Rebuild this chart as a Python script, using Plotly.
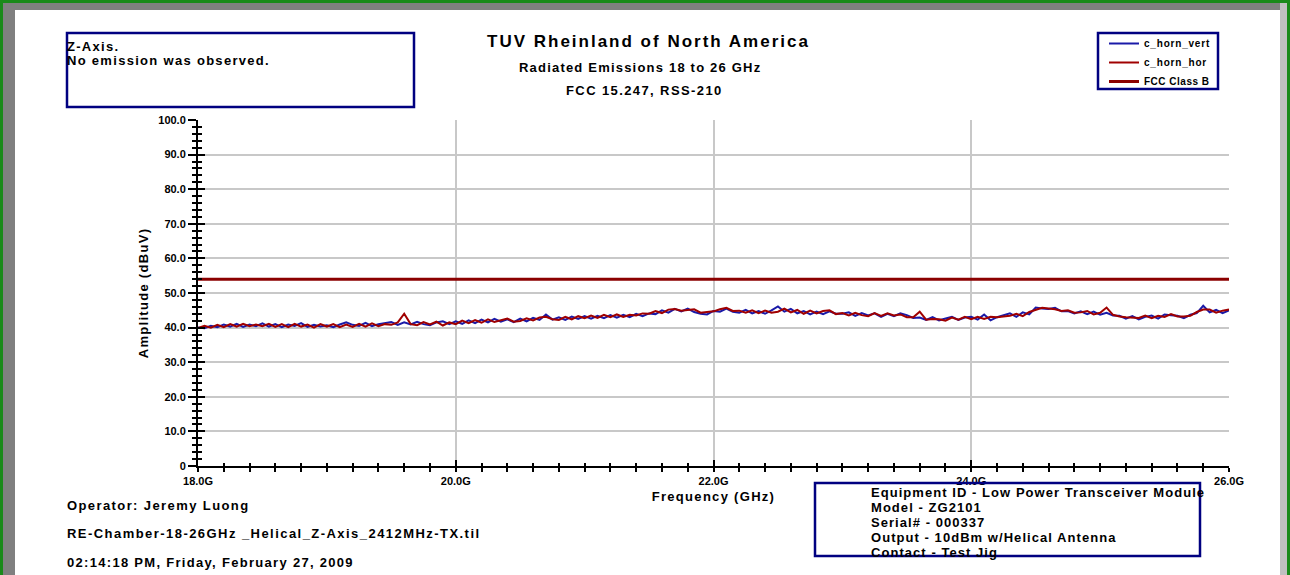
import plotly.graph_objects as go

# ---------------- data ----------------
freq_ghz = [
    18.00, 18.05, 18.10, 18.15, 18.20, 18.25, 18.30, 18.35, 18.40, 18.45,
    18.50, 18.55, 18.60, 18.65, 18.70, 18.75, 18.80, 18.85, 18.90, 18.95,
    19.00, 19.05, 19.10, 19.15, 19.20, 19.25, 19.30, 19.35, 19.40, 19.45,
    19.50, 19.55, 19.60, 19.65, 19.70, 19.75, 19.80, 19.85, 19.90, 19.95,
    20.00, 20.05, 20.10, 20.15, 20.20, 20.25, 20.30, 20.35, 20.40, 20.45,
    20.50, 20.55, 20.60, 20.65, 20.70, 20.75, 20.80, 20.85, 20.90, 20.95,
    21.00, 21.05, 21.10, 21.15, 21.20, 21.25, 21.30, 21.35, 21.40, 21.45,
    21.50, 21.55, 21.60, 21.65, 21.70, 21.75, 21.80, 21.85, 21.90, 21.95,
    22.00, 22.05, 22.10, 22.15, 22.20, 22.25, 22.30, 22.35, 22.40, 22.45,
    22.50, 22.55, 22.60, 22.65, 22.70, 22.75, 22.80, 22.85, 22.90, 22.95,
    23.00, 23.05, 23.10, 23.15, 23.20, 23.25, 23.30, 23.35, 23.40, 23.45,
    23.50, 23.55, 23.60, 23.65, 23.70, 23.75, 23.80, 23.85, 23.90, 23.95,
    24.00, 24.05, 24.10, 24.15, 24.20, 24.25, 24.30, 24.35, 24.40, 24.45,
    24.50, 24.55, 24.60, 24.65, 24.70, 24.75, 24.80, 24.85, 24.90, 24.95,
    25.00, 25.05, 25.10, 25.15, 25.20, 25.25, 25.30, 25.35, 25.40, 25.45,
    25.50, 25.55, 25.60, 25.65, 25.70, 25.75, 25.80, 25.85, 25.90, 25.95,
    26.00,
]

c_horn_vert = [
    40.0, 39.8, 40.5, 40.1, 40.9, 40.3, 41.1, 40.2, 40.9, 40.4,
    41.2, 40.3, 41.0, 40.1, 40.9, 40.5, 41.3, 40.2, 40.8, 40.3,
    40.7, 40.1, 40.9, 41.5, 40.8, 40.5, 41.4, 40.4, 41.0, 41.3,
    41.6, 40.8, 41.5, 40.9, 41.7, 41.0, 40.7, 41.5, 41.8, 41.0,
    41.8, 41.1, 42.1, 41.3, 42.3, 41.5, 42.5, 41.7, 42.4, 41.6,
    42.6, 41.8, 42.8, 42.2, 43.8, 42.3, 43.0, 42.2, 43.2, 42.5,
    43.3, 42.6, 43.4, 42.7, 43.6, 42.9, 43.7, 43.0, 44.0, 43.3,
    44.1, 43.9, 45.0, 44.3, 45.4, 44.7, 45.5, 44.5, 44.0, 43.8,
    44.8, 44.6, 45.5, 44.6, 44.3, 45.1, 44.1, 44.8, 44.0, 45.0,
    46.1, 44.6, 45.4, 44.1, 44.8, 43.8, 44.6, 43.9, 44.7, 44.0,
    44.0, 44.4, 43.4, 44.2, 43.5, 44.1, 43.1, 44.0, 43.3, 44.1,
    43.6, 42.8, 42.9, 42.2, 43.0, 42.1, 42.7, 43.1, 42.2, 42.9,
    43.1, 42.3, 43.8, 42.1, 43.0, 43.6, 44.1, 43.1, 44.4, 43.8,
    45.8, 45.5, 45.4, 45.7, 44.7, 44.8, 44.1, 44.7, 43.9, 44.6,
    43.7, 44.3, 43.5, 43.4, 42.6, 43.3, 42.4, 43.1, 43.5, 42.6,
    43.8, 43.6, 43.4, 42.7, 43.7, 44.2, 46.3, 44.4, 45.1, 44.2,
    45.0,
]

c_horn_hor = [
    39.9, 40.5, 40.0, 40.8, 40.1, 41.0, 40.3, 41.1, 40.4, 40.9,
    40.4, 41.1, 40.2, 41.0, 40.1, 41.1, 40.3, 40.9, 40.0, 41.0,
    40.3, 41.0, 40.1, 40.9, 40.2, 41.1, 40.3, 41.2, 40.4, 41.0,
    40.8, 41.5, 44.0, 41.0, 40.7, 41.6, 40.9, 41.7, 40.6, 41.5,
    41.0, 42.0, 41.3, 42.2, 41.4, 42.4, 41.6, 42.2, 42.6, 41.7,
    41.9, 42.7, 42.1, 42.9, 43.1, 42.4, 42.2, 43.1, 42.4, 43.3,
    42.7, 43.5, 42.8, 43.7, 43.0, 43.8, 43.1, 43.7, 43.5, 44.1,
    44.0, 44.8, 44.2, 45.2, 45.4, 44.9, 45.1, 45.3, 44.3, 44.5,
    44.7, 45.3, 45.7, 44.8, 44.9, 44.3, 45.0, 44.2, 44.9, 44.3,
    44.6, 45.5, 44.4, 45.1, 44.0, 44.9, 44.1, 44.8, 45.0, 43.9,
    44.2, 43.5, 44.3, 43.6, 43.3, 44.2, 43.4, 44.1, 43.5, 43.8,
    43.0, 43.0, 44.6, 42.3, 42.5, 42.4, 42.0, 42.9, 42.3, 43.1,
    42.4, 43.1, 42.5, 43.1, 43.0, 43.2, 43.4, 44.0, 43.3, 44.5,
    45.1, 45.7, 45.5, 45.3, 44.8, 45.0, 44.3, 44.4, 44.8, 43.8,
    44.3, 45.8, 43.7, 43.2, 43.0, 43.0, 42.8, 43.5, 42.7, 43.4,
    43.1, 43.9, 43.2, 43.2, 43.4, 44.5, 45.2, 45.2, 44.3, 44.9,
    45.2,
]

fcc_limit_freq_ghz = [18.0, 26.0]
fcc_class_b_dbuv = [54.0, 54.0]

x_tick_vals = [18, 20, 22, 24, 26]
x_tick_text = ["18.0G", "20.0G", "22.0G", "24.0G", "26.0G"]
y_tick_vals = [0, 10, 20, 30, 40, 50, 60, 70, 80, 90, 100]
y_tick_text = ["0", "10.0", "20.0", "30.0", "40.0", "50.0",
               "60.0", "70.0", "80.0", "90.0", "100.0"]

# ---------------- layout helpers ----------------
FIG_W, FIG_H = 1290, 575
L, R, T, B = 198, 1229, 120, 466
FONT = "Liberation Sans, Arial, sans-serif"
NAVY = "#000080"
BLUE = "#1a1aa8"
RED = "#a00000"
LIMIT = "#8b0000"


def px_x(x):
    return (x - L) / (R - L)


def px_y(y):
    return (B - y) / (B - T)


def sp(text, ls):
    return f'<span style="letter-spacing:{ls}px">{text}</span>'


def bfont(size, color="black"):
    return dict(family=FONT, size=size, color=color, weight="bold")


fig = go.Figure()
fig.add_trace(go.Scatter(x=freq_ghz, y=c_horn_vert, mode="lines",
                         name=sp("c_horn_vert", 0.8),
                         line=dict(color=BLUE, width=2)))
fig.add_trace(go.Scatter(x=freq_ghz, y=c_horn_hor, mode="lines",
                         name=sp("c_horn_hor", 0.8),
                         line=dict(color=RED, width=2)))
# the limit line lives on the overlay axes (same ranges) that carry the
# inner half of the crossing tick marks
fig.add_trace(go.Scatter(x=fcc_limit_freq_ghz, y=fcc_class_b_dbuv, mode="lines",
                         name=sp("FCC Class B", 0.5), xaxis="x2", yaxis="y2",
                         line=dict(color=LIMIT, width=3)))

shapes = []


def rect(x0, y0, x1, y1, fill=None, line_color=None, line_width=0):
    shapes.append(dict(type="rect", xref="paper", yref="paper",
                       x0=px_x(x0), x1=px_x(x1), y0=px_y(y0), y1=px_y(y1),
                       fillcolor=fill if fill else "rgba(0,0,0,0)",
                       line=dict(color=line_color if line_color else "rgba(0,0,0,0)",
                                 width=line_width),
                       layer="above"))


# window frame
rect(0, 0, 1290, 3, fill="#1a8a1a")
rect(3, 3, 1280, 10, fill="#808080")
rect(0, 0, 3, 575, fill="#1a8a1a")
rect(3, 3, 15, 575, fill="#808080")
rect(1280, 3, 1287, 575, fill="#c0c0c0")
rect(1287, 0, 1290, 575, fill="#1a8a1a")
# text boxes
rect(67, 33, 414, 107, line_color=NAVY, line_width=2.5)
rect(815, 483, 1200, 556, line_color=NAVY, line_width=2.5)
# legend frame
rect(1098, 33, 1218, 89, fill="white", line_color=NAVY, line_width=2.5)

annotations = []


def text(x, y, s, size, ls, anchor="left"):
    annotations.append(dict(xref="paper", yref="paper", x=px_x(x), y=px_y(y),
                            xanchor=anchor, yanchor="middle", showarrow=False,
                            align=anchor if anchor != "center" else "center",
                            borderpad=0, borderwidth=0,
                            text=sp(s, ls), font=bfont(size)))


text(648.5, 41.7, "TUV Rheinland of North America", 17, 2.0, "center")
text(640, 67, "Radiated Emissions 18 to 26 GHz", 13, 1.2, "center")
text(644, 90.7, "FCC 15.247, RSS-210", 13, 1.4, "center")

text(67, 46, "Z-Axis.", 13, 1.3)
text(67, 61, "No emission was observed.", 13, 1.3)

text(67, 505, "Operator: Jeremy Luong", 13, 1.4)
text(67, 533, "RE-Chamber-18-26GHz _Helical_Z-Axis_2412MHz-TX.til", 13, 1.45)
text(67, 562, "02:14:18 PM, Friday, February 27, 2009", 13, 1.3)

text(871, 492, "Equipment ID - Low Power Transceiver Module", 13, 1.05)
text(871, 507, "Model - ZG2101", 13, 1.05)
text(871, 522, "Serial# - 000337", 13, 1.05)
text(871, 537, "Output - 10dBm w/Helical Antenna", 13, 1.05)
text(871, 552, "Contact - Test Jig", 13, 1.05)

GRID = "#c8c8c8"
x_alias = {str(v): t for v, t in zip(x_tick_vals, x_tick_text)}
y_alias = {str(v): t for v, t in zip(y_tick_vals, y_tick_text)}
x_rng = [x_tick_vals[0], x_tick_vals[-1]]
y_rng = [y_tick_vals[0], y_tick_vals[-1]]
x_dt = x_tick_vals[1] - x_tick_vals[0]
y_dt = y_tick_vals[1] - y_tick_vals[0]

fig.update_layout(
    width=FIG_W, height=FIG_H, autosize=False,
    margin=dict(l=L, r=FIG_W - R, t=T, b=FIG_H - B, pad=0),
    paper_bgcolor="white", plot_bgcolor="white",
    font=bfont(11),
    showlegend=True,
    legend=dict(x=px_x(1104), y=px_y(29), xanchor="left", yanchor="top",
                bgcolor="rgba(0,0,0,0)", borderwidth=0,
                font=bfont(10), itemwidth=30, tracegroupgap=0,
                traceorder="normal"),
    xaxis=dict(range=x_rng, tickmode="linear", tick0=x_rng[0], dtick=x_dt,
               labelalias=x_alias,
               ticks="outside", ticklen=4, tickwidth=1.5,
               tickcolor="black", showline=True, linecolor="black", linewidth=2,
               showgrid=True, gridcolor=GRID, gridwidth=1.5, zeroline=False,
               tickfont=bfont(11),
               minor=dict(tickmode="linear", dtick=0.2, tick0=x_rng[0],
                          ticks="outside", ticklen=4, tickwidth=1.5,
                          tickcolor="black", showgrid=False),
               title=dict(text=sp("Frequency (GHz)", 1.3), font=bfont(13),
                          standoff=6)),
    yaxis=dict(range=y_rng, tickmode="linear", tick0=y_rng[0], dtick=y_dt,
               labelalias=y_alias,
               ticks="outside", ticklen=8, tickwidth=1.5,
               tickcolor="black", showline=True, linecolor="black", linewidth=2,
               showgrid=True, gridcolor=GRID, gridwidth=1.5, zeroline=False,
               tickfont=bfont(11),
               minor=dict(tickmode="linear", dtick=2, tick0=y_rng[0],
                          ticks="outside", ticklen=4, tickwidth=1.5,
                          tickcolor="black", showgrid=False),
               title=dict(text=sp("Amplitude (dBuV)", 1.3), font=bfont(13),
                          standoff=7)),
    xaxis2=dict(overlaying="x", anchor="y2", side="bottom", range=x_rng,
                tickmode="linear", tick0=x_rng[0], dtick=x_dt, ticks="inside",
                ticklen=6, tickwidth=1.5, tickcolor="black",
                showticklabels=False, showgrid=False, showline=False,
                zeroline=False,
                minor=dict(tickmode="linear", dtick=0.2, tick0=x_rng[0],
                           ticks="inside", ticklen=3, tickwidth=1.5,
                           tickcolor="black", showgrid=False)),
    yaxis2=dict(overlaying="y", anchor="x2", side="left", range=y_rng,
                tickmode="linear", tick0=y_rng[0], dtick=y_dt, ticks="inside",
                ticklen=7, tickwidth=1.5, tickcolor="black",
                showticklabels=False, showgrid=False, showline=False,
                zeroline=False,
                minor=dict(tickmode="linear", dtick=2, tick0=y_rng[0],
                           ticks="inside", ticklen=4, tickwidth=1.5,
                           tickcolor="black", showgrid=False)),
    shapes=shapes,
    annotations=annotations,
)

fig.write_html("out.html", config={"displayModeBar": False},
               post_script="document.body.style.margin='0';"
                           "document.body.style.overflow='hidden';")
